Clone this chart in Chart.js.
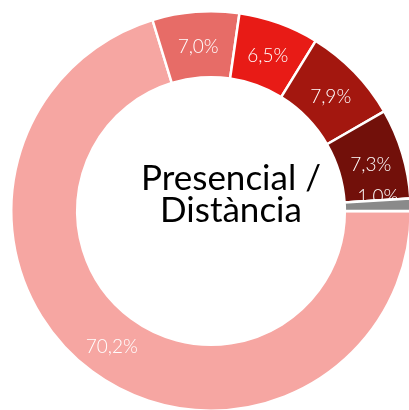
<!DOCTYPE html>
<html>
<head>
<meta charset="utf-8">
<script src="https://cdn.jsdelivr.net/npm/chart.js@4/dist/chart.umd.min.js"></script>
<style>
  html, body { margin: 0; padding: 0; background: #fff; }
  #wrap { width: 409px; height: 410px; overflow: hidden; position: relative; }
  canvas { position: absolute; left: 0; top: 0; }
</style>
</head>
<body>
<div id="wrap">
  <canvas id="grafico" width="422" height="422"></canvas>
</div>
<script>
// Datos del grafico
const categorias = ['Presencial', 'Categoria 2', 'Categoria 3', 'Categoria 4', 'Categoria 5', 'Categoria 6'];
const valores = [70.2, 7.0, 6.5, 7.9, 7.3, 1.0];
const colores = ['#f6a6a2', '#e76c67', '#e81b16', '#a3170f', '#72100a', '#8a8a8a'];
const titulo = ['Presencial /', 'Distància'];

// etiquetas con coma decimal
function formato(v) {
    return v.toFixed(1).replace('.', ',') + '%';
}

const pluginEtiquetas = {
    id: 'etiquetas',
    afterDatasetsDraw(chart) {
        const ctx = chart.ctx;
        const meta = chart.getDatasetMeta(0);
        ctx.save();
        ctx.fillStyle = '#ffffff';
        ctx.font = '300 19px Lato';
        ctx.textAlign = 'center';
        meta.data.forEach((arc, i) => {
            const p = arc.getProps(['startAngle', 'endAngle', 'innerRadius', 'outerRadius', 'x', 'y'], true);
            const ang = (p.startAngle + p.endAngle) / 2;
            const r = (p.innerRadius + p.outerRadius) / 2;
            const x = p.x + Math.cos(ang) * r;
            const y = p.y + Math.sin(ang) * r;
            // los segmentos pequeños quedan con la etiqueta encima
            ctx.textBaseline = valores[i] < 2 ? 'alphabetic' : 'middle';
            ctx.fillText(formato(valores[i]), x, valores[i] < 2 ? y - 3 : y + 2);
        });
        ctx.restore();
        // el segmento gris tapa su etiqueta como en el original
        meta.data.forEach((arc, i) => {
            if (valores[i] < 2) arc.draw(ctx);
        });

        // texto central
        ctx.save();
        ctx.fillStyle = '#000000';
        ctx.font = '35px Lato';
        ctx.textAlign = 'center';
        ctx.textBaseline = 'alphabetic';
        ctx.fillText(titulo[0], 231, 190);
        ctx.fillText(titulo[1], 231, 222);
        ctx.restore();
    }
};

var grafico = new Chart(document.getElementById('grafico').getContext('2d'), {
    type: 'doughnut',
    data: {
        labels: categorias,
        datasets: [{
            data: valores,
            backgroundColor: colores,
            borderColor: '#ffffff',
            borderWidth: 2.5
        }]
    },
    options: {
        responsive: false,
        animation: false,
        rotation: 90,
        cutout: '67%',
        layout: { padding: 10 },
        plugins: {
            legend: { display: false },
            tooltip: { enabled: false }
        }
    },
    plugins: [pluginEtiquetas]
});
</script>
</body>
</html>
